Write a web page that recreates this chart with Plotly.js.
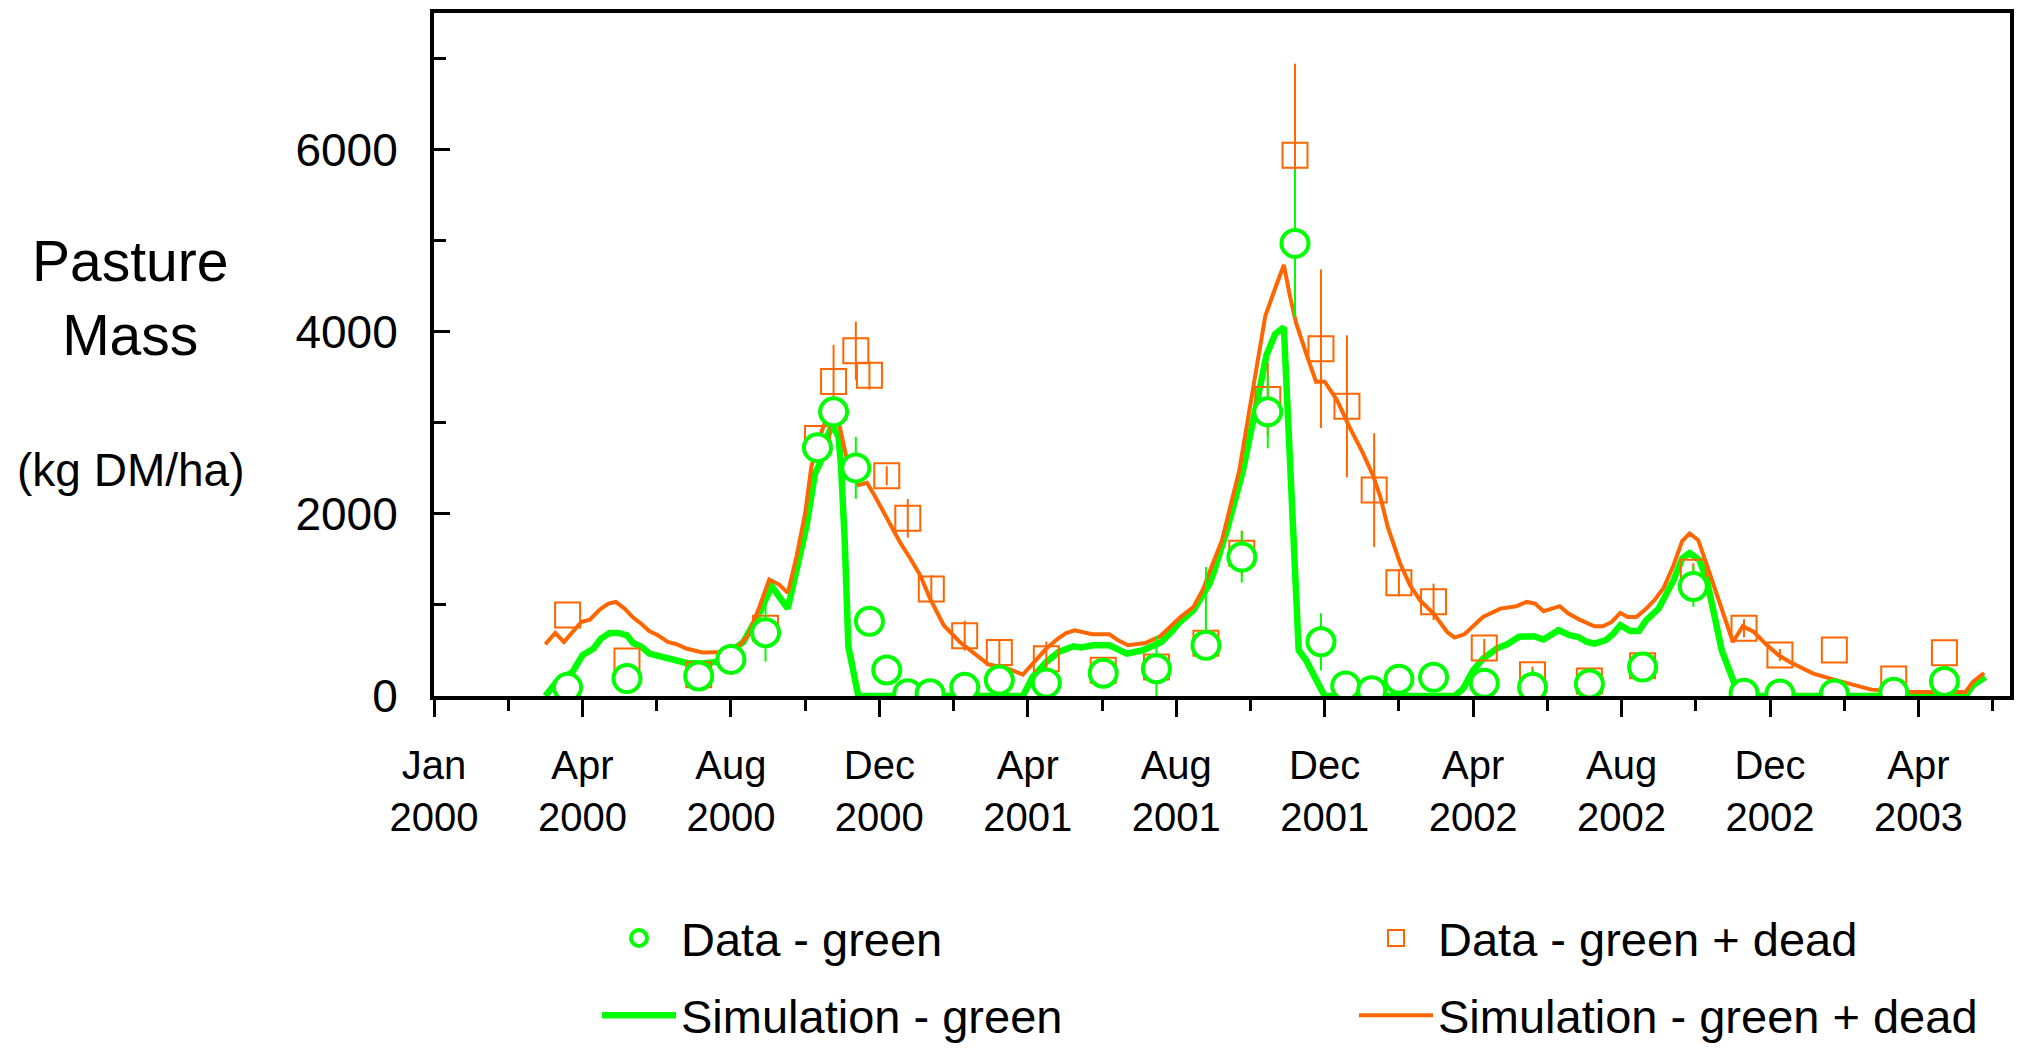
<!DOCTYPE html>
<html><head><meta charset="utf-8">
<script src="https://cdn.plot.ly/plotly-3.0.1.min.js"></script>
<style>html,body{margin:0;padding:0;background:#fff;}#chart{width:2022px;height:1049px;}</style>
</head><body><div id="chart"></div>
<script>
// x values are days since 1 Jan 2000
const startDate = '2000-01-01';

// Data - green (observed green pasture mass)
const dataGreenDays   = [108,156,214,240,268,310,323,341,352,366,383,401,429,457,495,541,584,624,653,674,696,717,737,758,780,808,849,888,934,977,1018,1059,1088,1132,1180,1221];
const dataGreenValues = [95,192,220,402,695,2727,3120,2505,820,286,25,25,95,175,142,250,300,556,1526,3120,4970,595,110,58,184,205,140,95,132,318,1203,30,22,22,40,160];
const dataGreenErrUp  = [0,0,0,0,318,0,0,340,0,0,0,0,0,0,0,0,360,860,280,400,806,314,0,0,0,0,0,200,0,0,223,0,0,0,0,0];
const dataGreenErrDn  = [0,0,0,0,318,0,0,340,0,0,0,0,0,0,0,0,360,0,280,400,806,314,0,0,0,0,0,200,0,0,223,0,0,0,0,0];

// Data - green + dead (observed total pasture mass)
const dataTotalDays   = [108,156,214,268,310,323,341,352,366,383,402,429,457,495,541,584,624,653,674,696,717,738,760,780,808,849,888,934,977,1018,1059,1088,1132,1180,1221];
const dataTotalValues = [890,385,232,744,2828,3454,3792,3521,2418,1951,1176,662,477,408,284,318,578,1567,3256,5938,3814,3181,2261,1244,1034,526,232,164,332,1358,744,451,504,186,476];
const dataTotalErrUp  = [0,0,0,0,0,403,320,156,105,212,150,165,130,190,0,0,0,250,400,1005,870,780,625,150,200,100,90,0,0,100,100,65,0,0,0];
const dataTotalErrDn  = [0,0,0,0,0,403,320,156,105,212,150,165,130,190,0,0,0,250,400,780,870,780,625,150,200,100,90,0,0,100,100,65,0,0,0];

// Simulation - green
const simGreenDays   = [90,99,112,120,129,135,142,149,156,161,168,174,204,217,228,250,262,273,286,293,301,308,312,318,322,327,329,332,335,343,476,484,495,505,517,523,533,546,560,573,588,596,603,614,622,627,630,641,654,668,673,680,687,699,705,712,720,825,832,840,848,859,868,877,889,897,909,918,925,932,938,947,953,959,967,974,980,990,996,1002,1009,1015,1023,1029,1041,1053,1055,1238,1244,1254];
const simGreenValues = [0,154,264,447,521,631,692,692,667,582,538,466,363,356,374,593,880,1205,960,1345,1857,2444,2554,2850,2980,2846,2535,1711,538,0,0,209,374,484,546,532,557,557,466,502,593,703,813,942,1107,1235,1345,1821,2480,3359,3744,3975,4048,502,392,209,0,0,81,282,411,521,570,650,656,620,722,667,648,593,576,612,678,777,714,714,832,960,1107,1271,1510,1571,1491,1271,502,63,0,0,118,209];

// Simulation - green + dead
const simTotalDays   = [90,98,105,112,119,126,134,141,147,154,161,168,174,181,189,196,204,217,228,239,247,254,263,271,279,286,293,300,305,312,318,324,328,333,343,350,356,364,371,377,385,393,401,412,425,437,448,464,476,484,495,505,511,518,532,546,553,561,575,587,595,603,614,622,628,637,651,662,672,680,687,692,697,705,713,720,730,740,751,759,765,771,781,789,797,808,819,825,833,848,862,875,883,890,897,910,917,926,938,945,952,959,965,972,980,987,994,1002,1009,1015,1022,1029,1040,1050,1058,1067,1077,1087,1096,1115,1134,1162,1193,1238,1244,1253];
const simTotalValues = [568,692,593,703,813,839,949,1015,1033,960,861,788,714,667,593,568,521,477,477,484,557,667,978,1279,1224,1132,1527,2004,2516,2850,3080,3050,2956,2645,2315,2341,2205,2004,1821,1681,1510,1326,1070,777,593,466,348,301,235,356,521,637,692,722,678,678,612,557,582,656,758,861,978,1180,1400,1711,2480,3400,4173,4477,4733,4385,4092,3763,3451,3451,3249,2956,2664,2425,2187,1857,1455,1216,1052,905,703,642,678,868,960,986,1033,1015,931,986,905,839,766,766,813,912,868,868,960,1059,1187,1436,1700,1785,1711,1436,997,593,766,703,565,447,374,246,172,70,44,44,154,253];

const labels = {
  dataGreen: 'Data - green',
  dataTotal: 'Data - green + dead',
  simGreen: 'Simulation - green',
  simTotal: 'Simulation - green + dead'
};

const DAY = 86400000;
const t0 = Date.UTC(2000, 0, 1);
const toDate = d => new Date(t0 + d * DAY).toISOString().slice(0, 10);

const GREEN = '#00ff00';
const ORANGE = '#ff6600';
const FONT = 'Liberation Sans, Arial, sans-serif';

// plot frame in page pixels (used only to place the legends / side title)
const PL = 434, PR = 2010, PT = 13, PB = 696;
const pxX = px => (px - PL) / (PR - PL);
const pxY = py => (PB - py) / (PB - PT);

const traces = [
  {
    x: simGreenDays.map(toDate), y: simGreenValues, type: 'scatter', mode: 'lines',
    name: labels.simGreen, line: {color: GREEN, width: 6.5},
    legend: 'legend', legendgroup: 'g2', legendrank: 2
  },
  {
    x: simTotalDays.map(toDate), y: simTotalValues, type: 'scatter', mode: 'lines',
    name: labels.simTotal, line: {color: ORANGE, width: 4},
    legend: 'legend2', legendgroup: 'o2', legendrank: 2
  },
  {
    x: dataTotalDays.map(toDate), y: dataTotalValues, type: 'scatter', mode: 'markers',
    name: labels.dataTotal,
    marker: {symbol: 'square-open', size: 25, color: ORANGE, line: {color: ORANGE, width: 2}},
    error_y: {type: 'data', symmetric: false, array: dataTotalErrUp, arrayminus: dataTotalErrDn,
              color: ORANGE, thickness: 2, width: 0},
    legend: 'legend2', legendgroup: 'o1', legendrank: 1
  },
  {
    x: dataGreenDays.map(toDate), y: dataGreenValues, type: 'scatter', mode: 'markers',
    name: labels.dataGreen,
    marker: {symbol: 'circle', size: 27, color: '#ffffff', line: {color: GREEN, width: 4}},
    error_y: {type: 'data', symmetric: false, array: dataGreenErrUp, arrayminus: dataGreenErrDn,
              color: GREEN, thickness: 2, width: 0},
    legend: 'legend', legendgroup: 'g1', legendrank: 1
  }
];

const legendCommon = {
  orientation: 'v', xref: 'paper', yref: 'paper', xanchor: 'left', yanchor: 'middle',
  bgcolor: 'rgba(0,0,0,0)', borderwidth: 0, font: {family: FONT, size: 47, color: '#000'},
  itemwidth: 74, tracegroupgap: 13, traceorder: 'grouped', itemclick: false, itemdoubleclick: false
};

const layout = {
  width: 2022, height: 1049,
  margin: {l: 434, r: 12, t: 13, b: 353, pad: 0, autoexpand: false},
  paper_bgcolor: '#ffffff', plot_bgcolor: '#ffffff',
  font: {family: FONT, color: '#000'},
  showlegend: true,
  legend: Object.assign({}, legendCommon, {x: pxX(597), y: pxY(977)}),
  legend2: Object.assign({}, legendCommon, {x: pxX(1354), y: pxY(977)}),
  xaxis: {
    type: 'date',
    range: [toDate(0), toDate(1274)],
    tick0: startDate, dtick: 120 * DAY, tickformat: '%b<br>%Y',
    ticks: 'outside', ticklen: 17, tickwidth: 3, tickcolor: '#000',
    minor: {tick0: startDate, dtick: 60 * DAY, ticks: 'outside', ticklen: 11, tickwidth: 3, tickcolor: '#000', showgrid: false},
    showline: true, linewidth: 4, linecolor: '#000', mirror: true,
    showgrid: false, zeroline: false,
    tickfont: {family: FONT, size: 40, color: '#000'},
    ticklabelstandoff: 14
  },
  yaxis: {
    range: [0, 7500], tick0: 0, dtick: 2000,
    ticks: 'inside', ticklen: 16, tickwidth: 3, tickcolor: '#000',
    minor: {dtick: 1000, ticks: 'inside', ticklen: 12, tickwidth: 3, tickcolor: '#000', showgrid: false},
    showline: true, linewidth: 4, linecolor: '#000', mirror: true,
    showgrid: false, zeroline: false,
    tickfont: {family: FONT, size: 46, color: '#000'},
    ticklabelstandoff: 23
  },
  annotations: [
    {text: 'Pasture<br>Mass', xref: 'paper', yref: 'paper', x: pxX(130), y: pxY(298),
     xanchor: 'center', yanchor: 'middle', showarrow: false, font: {family: FONT, size: 57, color: '#000'}},
    {text: '(kg DM/ha)', xref: 'paper', yref: 'paper', x: pxX(130), y: pxY(470),
     xanchor: 'center', yanchor: 'middle', showarrow: false, font: {family: FONT, size: 46, color: '#000'}}
  ]
};

Plotly.newPlot('chart', traces, layout, {displayModeBar: false, staticPlot: true});
</script>
</body></html>
